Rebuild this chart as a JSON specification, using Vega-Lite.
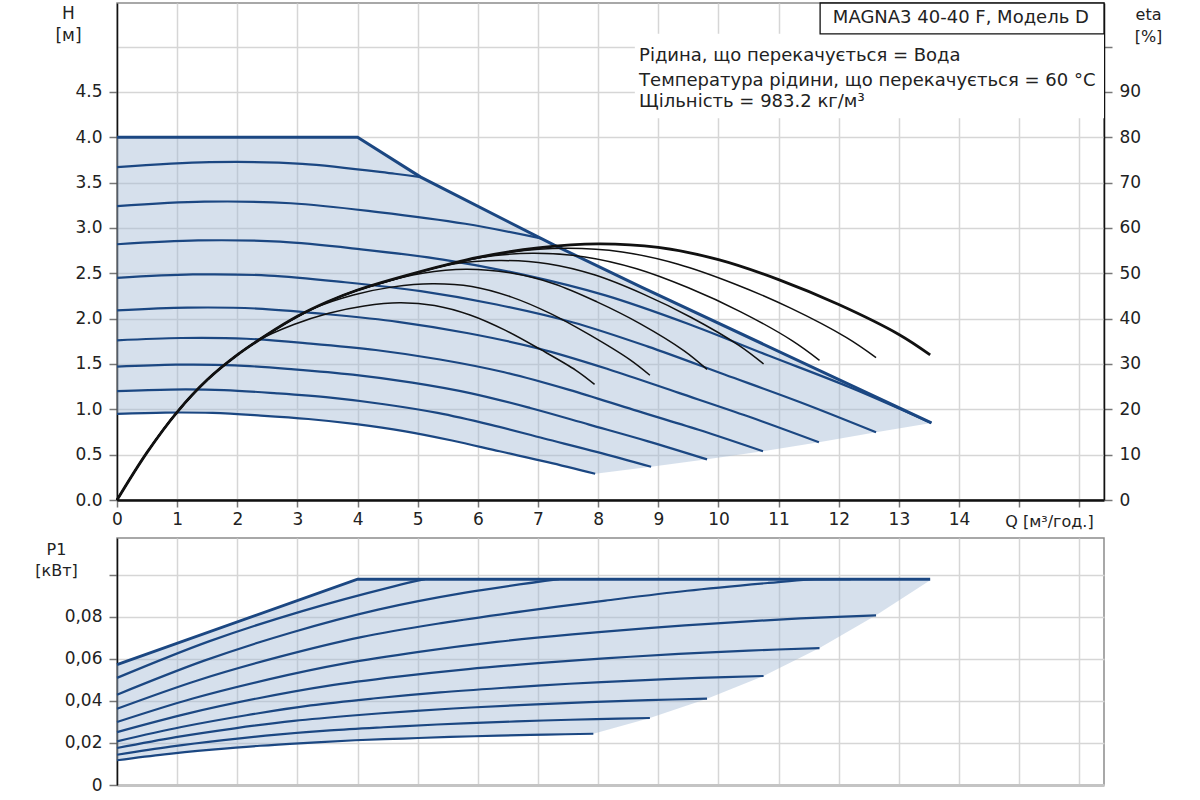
{
  "$schema": "https://vega.github.io/schema/vega-lite/v6.json",
  "padding": {"left": 34, "top": 1, "right": 5, "bottom": 0},
  "background": "white",
  "config": {
    "font": "DejaVu Sans",
    "view": {"stroke": "#8c8c8c", "strokeWidth": 1.5},
    "axis": {
      "labelFont": "DejaVu Sans", "labelFontSize": 17, "labelColor": "#222",
      "titleFont": "DejaVu Sans", "titleFontSize": 16, "titleFontWeight": "normal", "titleColor": "#222",
      "gridColor": "#d6d6d6", "gridWidth": 1.5,
      "domainColor": "#111", "domainWidth": 1.5,
      "tickColor": "#777", "tickSize": 8, "tickWidth": 1.5,
      "labelFlush": false, "labelOverlap": false, "labelBound": false
    }
  },
  "datasets": {
    "harea": [
      {"q": 0, "h": 4.0, "h2": 0.95},
      {"q": 0.8, "h": 4.0, "h2": 0.964},
      {"q": 1.59, "h": 4.0, "h2": 0.96},
      {"q": 2.39, "h": 4.0, "h2": 0.931},
      {"q": 3.18, "h": 4.0, "h2": 0.893},
      {"q": 4.0, "h": 4.0, "h2": 0.834},
      {"q": 4.77, "h": 3.677, "h2": 0.76},
      {"q": 5.05, "h": 3.56, "h2": 0.723},
      {"q": 5.57, "h": 3.384, "h2": 0.656},
      {"q": 6.36, "h": 3.117, "h2": 0.537},
      {"q": 7.16, "h": 2.847, "h2": 0.418},
      {"q": 7.27, "h": 2.81, "h2": 0.40},
      {"q": 7.95, "h": 2.59, "h2": 0.29},
      {"q": 8.71, "h": 2.35, "h2": 0.352},
      {"q": 8.88, "h": 2.297, "h2": 0.366},
      {"q": 9.81, "h": 2.008, "h2": 0.448},
      {"q": 10.74, "h": 1.719, "h2": 0.537},
      {"q": 11.67, "h": 1.43, "h2": 0.637},
      {"q": 12.62, "h": 1.135, "h2": 0.747},
      {"q": 13.54, "h": 0.85, "h2": 0.85}
    ],
    "hmax": [
      {"q": 0, "h": 4.0},
      {"q": 4.0, "h": 4.0},
      {"q": 5.05, "h": 3.56},
      {"q": 7.27, "h": 2.81},
      {"q": 8.71, "h": 2.35},
      {"q": 13.54, "h": 0.85}
    ],
    "hq": [
      {"curve": "C2", "q": 0, "h": 3.67}, {"curve": "C2", "q": 1.54, "h": 3.725}, {"curve": "C2", "q": 3.08, "h": 3.707}, {"curve": "C2", "q": 4.62, "h": 3.597}, {"curve": "C2", "q": 5.05, "h": 3.56},
      {"curve": "C3", "q": 0, "h": 3.24}, {"curve": "C3", "q": 1.45, "h": 3.289}, {"curve": "C3", "q": 2.89, "h": 3.272}, {"curve": "C3", "q": 4.34, "h": 3.175}, {"curve": "C3", "q": 5.79, "h": 3.046}, {"curve": "C3", "q": 7.05, "h": 2.885},
      {"curve": "C4", "q": 0, "h": 2.82}, {"curve": "C4", "q": 1.35, "h": 2.862}, {"curve": "C4", "q": 2.71, "h": 2.848}, {"curve": "C4", "q": 4.06, "h": 2.764}, {"curve": "C4", "q": 5.42, "h": 2.651}, {"curve": "C4", "q": 6.77, "h": 2.482}, {"curve": "C4", "q": 8.12, "h": 2.256}, {"curve": "C4", "q": 9.48, "h": 1.946}, {"curve": "C4", "q": 10.83, "h": 1.593}, {"curve": "C4", "q": 12.19, "h": 1.241}, {"curve": "C4", "q": 13.54, "h": 0.85},
      {"curve": "C5", "q": 0, "h": 2.45}, {"curve": "C5", "q": 1.26, "h": 2.487}, {"curve": "C5", "q": 2.52, "h": 2.475}, {"curve": "C5", "q": 3.79, "h": 2.401}, {"curve": "C5", "q": 5.05, "h": 2.303}, {"curve": "C5", "q": 6.31, "h": 2.156}, {"curve": "C5", "q": 7.57, "h": 1.96}, {"curve": "C5", "q": 8.83, "h": 1.691}, {"curve": "C5", "q": 10.1, "h": 1.384}, {"curve": "C5", "q": 11.36, "h": 1.078}, {"curve": "C5", "q": 12.62, "h": 0.747},
      {"curve": "C6", "q": 0, "h": 2.09}, {"curve": "C6", "q": 1.17, "h": 2.121}, {"curve": "C6", "q": 2.33, "h": 2.111}, {"curve": "C6", "q": 3.5, "h": 2.048}, {"curve": "C6", "q": 4.67, "h": 1.965}, {"curve": "C6", "q": 5.84, "h": 1.839}, {"curve": "C6", "q": 7.0, "h": 1.672}, {"curve": "C6", "q": 8.17, "h": 1.442}, {"curve": "C6", "q": 9.34, "h": 1.181}, {"curve": "C6", "q": 10.5, "h": 0.92}, {"curve": "C6", "q": 11.67, "h": 0.637},
      {"curve": "C7", "q": 0, "h": 1.76}, {"curve": "C7", "q": 1.07, "h": 1.786}, {"curve": "C7", "q": 2.15, "h": 1.778}, {"curve": "C7", "q": 3.22, "h": 1.725}, {"curve": "C7", "q": 4.3, "h": 1.654}, {"curve": "C7", "q": 5.37, "h": 1.549}, {"curve": "C7", "q": 6.44, "h": 1.408}, {"curve": "C7", "q": 7.52, "h": 1.214}, {"curve": "C7", "q": 8.59, "h": 0.994}, {"curve": "C7", "q": 9.67, "h": 0.774}, {"curve": "C7", "q": 10.74, "h": 0.537},
      {"curve": "C8", "q": 0, "h": 1.47}, {"curve": "C8", "q": 0.98, "h": 1.492}, {"curve": "C8", "q": 1.96, "h": 1.485}, {"curve": "C8", "q": 2.94, "h": 1.441}, {"curve": "C8", "q": 3.92, "h": 1.382}, {"curve": "C8", "q": 4.91, "h": 1.294}, {"curve": "C8", "q": 5.89, "h": 1.176}, {"curve": "C8", "q": 6.87, "h": 1.014}, {"curve": "C8", "q": 7.85, "h": 0.831}, {"curve": "C8", "q": 8.83, "h": 0.647}, {"curve": "C8", "q": 9.81, "h": 0.448},
      {"curve": "C9", "q": 0, "h": 1.2}, {"curve": "C9", "q": 0.89, "h": 1.218}, {"curve": "C9", "q": 1.78, "h": 1.212}, {"curve": "C9", "q": 2.66, "h": 1.176}, {"curve": "C9", "q": 3.55, "h": 1.128}, {"curve": "C9", "q": 4.44, "h": 1.056}, {"curve": "C9", "q": 5.33, "h": 0.96}, {"curve": "C9", "q": 6.22, "h": 0.828}, {"curve": "C9", "q": 7.1, "h": 0.678}, {"curve": "C9", "q": 7.99, "h": 0.528}, {"curve": "C9", "q": 8.88, "h": 0.366},
      {"curve": "C10", "q": 0, "h": 0.95}, {"curve": "C10", "q": 0.8, "h": 0.964}, {"curve": "C10", "q": 1.59, "h": 0.96}, {"curve": "C10", "q": 2.39, "h": 0.931}, {"curve": "C10", "q": 3.18, "h": 0.893}, {"curve": "C10", "q": 3.98, "h": 0.836}, {"curve": "C10", "q": 4.77, "h": 0.76}, {"curve": "C10", "q": 5.57, "h": 0.656}, {"curve": "C10", "q": 6.36, "h": 0.537}, {"curve": "C10", "q": 7.16, "h": 0.418}, {"curve": "C10", "q": 7.95, "h": 0.29}
    ],
    "eta": [
      {"curve": "E1", "q": 0, "eta": 0}, {"curve": "E1", "q": 0.5, "eta": 10.5}, {"curve": "E1", "q": 1, "eta": 19.4}, {"curve": "E1", "q": 1.5, "eta": 26.5}, {"curve": "E1", "q": 2, "eta": 32}, {"curve": "E1", "q": 2.35, "eta": 35.2}, {"curve": "E1", "q": 2.94, "eta": 38.7}, {"curve": "E1", "q": 3.52, "eta": 41.2}, {"curve": "E1", "q": 4.11, "eta": 42.8}, {"curve": "E1", "q": 4.7, "eta": 43.5}, {"curve": "E1", "q": 5.28, "eta": 42.9}, {"curve": "E1", "q": 5.87, "eta": 40.8}, {"curve": "E1", "q": 6.46, "eta": 37.4}, {"curve": "E1", "q": 7.04, "eta": 33.2}, {"curve": "E1", "q": 7.63, "eta": 28.6}, {"curve": "E1", "q": 7.94, "eta": 25.5},
      {"curve": "E2", "q": 0, "eta": 0}, {"curve": "E2", "q": 0.5, "eta": 10.5}, {"curve": "E2", "q": 1, "eta": 19.4}, {"curve": "E2", "q": 1.5, "eta": 26.5}, {"curve": "E2", "q": 1.97, "eta": 31.7}, {"curve": "E2", "q": 2.29, "eta": 34.6}, {"curve": "E2", "q": 2.62, "eta": 37.5}, {"curve": "E2", "q": 3.28, "eta": 42.3}, {"curve": "E2", "q": 3.93, "eta": 45.2}, {"curve": "E2", "q": 4.59, "eta": 47.0}, {"curve": "E2", "q": 5.24, "eta": 47.7}, {"curve": "E2", "q": 5.9, "eta": 47.1}, {"curve": "E2", "q": 6.55, "eta": 44.8}, {"curve": "E2", "q": 7.21, "eta": 41.1}, {"curve": "E2", "q": 7.86, "eta": 36.4}, {"curve": "E2", "q": 8.52, "eta": 31.0}, {"curve": "E2", "q": 8.86, "eta": 27.5},
      {"curve": "E3", "q": 0, "eta": 0}, {"curve": "E3", "q": 0.5, "eta": 10.5}, {"curve": "E3", "q": 1, "eta": 19.4}, {"curve": "E3", "q": 1.5, "eta": 26.5}, {"curve": "E3", "q": 2, "eta": 32}, {"curve": "E3", "q": 2.5, "eta": 36.5}, {"curve": "E3", "q": 2.9, "eta": 39.7}, {"curve": "E3", "q": 3.63, "eta": 44.4}, {"curve": "E3", "q": 4.35, "eta": 47.7}, {"curve": "E3", "q": 5.08, "eta": 50.0}, {"curve": "E3", "q": 5.8, "eta": 50.9}, {"curve": "E3", "q": 6.53, "eta": 50.1}, {"curve": "E3", "q": 7.26, "eta": 47.7}, {"curve": "E3", "q": 7.98, "eta": 43.7}, {"curve": "E3", "q": 8.71, "eta": 38.8}, {"curve": "E3", "q": 9.43, "eta": 32.9}, {"curve": "E3", "q": 9.81, "eta": 28.8},
      {"curve": "E4", "q": 0, "eta": 0}, {"curve": "E4", "q": 0.5, "eta": 10.5}, {"curve": "E4", "q": 1, "eta": 19.4}, {"curve": "E4", "q": 1.5, "eta": 26.5}, {"curve": "E4", "q": 2, "eta": 32}, {"curve": "E4", "q": 2.5, "eta": 36.5}, {"curve": "E4", "q": 3, "eta": 40.5}, {"curve": "E4", "q": 3.5, "eta": 43.7}, {"curve": "E4", "q": 3.98, "eta": 46.2}, {"curve": "E4", "q": 4.77, "eta": 49.3}, {"curve": "E4", "q": 5.57, "eta": 52.0}, {"curve": "E4", "q": 6.36, "eta": 52.8}, {"curve": "E4", "q": 7.16, "eta": 52.1}, {"curve": "E4", "q": 7.95, "eta": 49.6}, {"curve": "E4", "q": 8.75, "eta": 45.4}, {"curve": "E4", "q": 9.54, "eta": 40.3}, {"curve": "E4", "q": 10.34, "eta": 34.1}, {"curve": "E4", "q": 10.75, "eta": 30.0},
      {"curve": "E5", "q": 0, "eta": 0}, {"curve": "E5", "q": 0.5, "eta": 10.5}, {"curve": "E5", "q": 1, "eta": 19.4}, {"curve": "E5", "q": 1.5, "eta": 26.5}, {"curve": "E5", "q": 2, "eta": 32}, {"curve": "E5", "q": 2.5, "eta": 36.5}, {"curve": "E5", "q": 3, "eta": 40.5}, {"curve": "E5", "q": 3.5, "eta": 43.7}, {"curve": "E5", "q": 4, "eta": 46.3}, {"curve": "E5", "q": 4.32, "eta": 47.5}, {"curve": "E5", "q": 5.18, "eta": 50.8}, {"curve": "E5", "q": 6.05, "eta": 53.5}, {"curve": "E5", "q": 6.91, "eta": 54.4}, {"curve": "E5", "q": 7.78, "eta": 53.6}, {"curve": "E5", "q": 8.64, "eta": 51.0}, {"curve": "E5", "q": 9.5, "eta": 46.8}, {"curve": "E5", "q": 10.37, "eta": 41.5}, {"curve": "E5", "q": 11.23, "eta": 35.1}, {"curve": "E5", "q": 11.68, "eta": 30.8},
      {"curve": "E6", "q": 0, "eta": 0}, {"curve": "E6", "q": 0.5, "eta": 10.5}, {"curve": "E6", "q": 1, "eta": 19.4}, {"curve": "E6", "q": 1.5, "eta": 26.5}, {"curve": "E6", "q": 2, "eta": 32}, {"curve": "E6", "q": 2.5, "eta": 36.5}, {"curve": "E6", "q": 3, "eta": 40.5}, {"curve": "E6", "q": 3.5, "eta": 43.7}, {"curve": "E6", "q": 4, "eta": 46.3}, {"curve": "E6", "q": 5, "eta": 50.2}, {"curve": "E6", "q": 5.6, "eta": 52.2}, {"curve": "E6", "q": 6.53, "eta": 54.6}, {"curve": "E6", "q": 7.46, "eta": 55.5}, {"curve": "E6", "q": 8.4, "eta": 54.7}, {"curve": "E6", "q": 9.33, "eta": 52.0}, {"curve": "E6", "q": 10.26, "eta": 47.7}, {"curve": "E6", "q": 11.2, "eta": 42.3}, {"curve": "E6", "q": 12.13, "eta": 35.8}, {"curve": "E6", "q": 12.62, "eta": 31.4},
      {"curve": "E7", "q": 0, "eta": 0}, {"curve": "E7", "q": 0.5, "eta": 10.5}, {"curve": "E7", "q": 1, "eta": 19.4}, {"curve": "E7", "q": 1.5, "eta": 26.5}, {"curve": "E7", "q": 2, "eta": 32}, {"curve": "E7", "q": 2.5, "eta": 36.5}, {"curve": "E7", "q": 3, "eta": 40.5}, {"curve": "E7", "q": 3.5, "eta": 43.7}, {"curve": "E7", "q": 4, "eta": 46.3}, {"curve": "E7", "q": 5, "eta": 50.2}, {"curve": "E7", "q": 6, "eta": 53.5}, {"curve": "E7", "q": 7, "eta": 55.6}, {"curve": "E7", "q": 8, "eta": 56.5}, {"curve": "E7", "q": 9, "eta": 55.7}, {"curve": "E7", "q": 10, "eta": 53.0}, {"curve": "E7", "q": 11, "eta": 48.6}, {"curve": "E7", "q": 12, "eta": 43.1}, {"curve": "E7", "q": 13, "eta": 36.5}, {"curve": "E7", "q": 13.52, "eta": 32.0}
    ],
    "parea": [
      {"q": 0, "p": 0.0573, "p2": 0.0118},
      {"q": 0.79, "p": 0.0653, "p2": 0.0146},
      {"q": 1.58, "p": 0.0734, "p2": 0.0168},
      {"q": 2.38, "p": 0.0815, "p2": 0.0187},
      {"q": 3.17, "p": 0.0895, "p2": 0.0201},
      {"q": 3.96, "p": 0.0976, "p2": 0.0213},
      {"q": 4.0, "p": 0.098, "p2": 0.0214},
      {"q": 4.75, "p": 0.098, "p2": 0.0221},
      {"q": 5.54, "p": 0.098, "p2": 0.0229},
      {"q": 6.34, "p": 0.098, "p2": 0.0235},
      {"q": 7.13, "p": 0.098, "p2": 0.024},
      {"q": 7.92, "p": 0.098, "p2": 0.0244},
      {"q": 8.86, "p": 0.098, "p2": 0.0319},
      {"q": 9.81, "p": 0.098, "p2": 0.0411},
      {"q": 10.75, "p": 0.098, "p2": 0.0519},
      {"q": 11.68, "p": 0.098, "p2": 0.0652},
      {"q": 12.62, "p": 0.098, "p2": 0.0808},
      {"q": 13.52, "p": 0.098, "p2": 0.0975}
    ],
    "pmax": [
      {"q": 0, "p": 0.0573},
      {"q": 4.0, "p": 0.098},
      {"q": 13.52, "p": 0.098}
    ],
    "pq": [
      {"curve": "C2", "q": 0, "p": 0.051}, {"curve": "C2", "q": 1.54, "p": 0.0685}, {"curve": "C2", "q": 3.08, "p": 0.0828}, {"curve": "C2", "q": 4.62, "p": 0.0947}, {"curve": "C2", "q": 5.12, "p": 0.098},
      {"curve": "C3", "q": 0, "p": 0.043}, {"curve": "C3", "q": 1.45, "p": 0.0592}, {"curve": "C3", "q": 2.89, "p": 0.0725}, {"curve": "C3", "q": 4.34, "p": 0.0835}, {"curve": "C3", "q": 5.79, "p": 0.0916}, {"curve": "C3", "q": 7.35, "p": 0.098},
      {"curve": "C4", "q": 0, "p": 0.0363}, {"curve": "C4", "q": 1.35, "p": 0.0499}, {"curve": "C4", "q": 2.71, "p": 0.0611}, {"curve": "C4", "q": 4.06, "p": 0.0704}, {"curve": "C4", "q": 5.42, "p": 0.0772}, {"curve": "C4", "q": 6.77, "p": 0.0828}, {"curve": "C4", "q": 8.12, "p": 0.0878}, {"curve": "C4", "q": 9.48, "p": 0.0925}, {"curve": "C4", "q": 10.83, "p": 0.0962}, {"curve": "C4", "q": 11.5, "p": 0.0978}, {"curve": "C4", "q": 12.2, "p": 0.098},
      {"curve": "C5", "q": 0, "p": 0.03}, {"curve": "C5", "q": 1.26, "p": 0.0412}, {"curve": "C5", "q": 2.52, "p": 0.0503}, {"curve": "C5", "q": 3.79, "p": 0.0579}, {"curve": "C5", "q": 5.05, "p": 0.0635}, {"curve": "C5", "q": 6.31, "p": 0.0681}, {"curve": "C5", "q": 7.57, "p": 0.0717}, {"curve": "C5", "q": 8.83, "p": 0.0747}, {"curve": "C5", "q": 10.1, "p": 0.0772}, {"curve": "C5", "q": 11.36, "p": 0.0793}, {"curve": "C5", "q": 12.62, "p": 0.0808},
      {"curve": "C6", "q": 0, "p": 0.0252}, {"curve": "C6", "q": 1.17, "p": 0.034}, {"curve": "C6", "q": 2.33, "p": 0.0412}, {"curve": "C6", "q": 3.5, "p": 0.0472}, {"curve": "C6", "q": 4.67, "p": 0.0516}, {"curve": "C6", "q": 5.84, "p": 0.0552}, {"curve": "C6", "q": 7.0, "p": 0.058}, {"curve": "C6", "q": 8.17, "p": 0.0604}, {"curve": "C6", "q": 9.34, "p": 0.0624}, {"curve": "C6", "q": 10.5, "p": 0.064}, {"curve": "C6", "q": 11.68, "p": 0.0652},
      {"curve": "C7", "q": 0, "p": 0.0208}, {"curve": "C7", "q": 1.07, "p": 0.0276}, {"curve": "C7", "q": 2.15, "p": 0.0332}, {"curve": "C7", "q": 3.22, "p": 0.0379}, {"curve": "C7", "q": 4.3, "p": 0.0413}, {"curve": "C7", "q": 5.37, "p": 0.0441}, {"curve": "C7", "q": 6.45, "p": 0.0463}, {"curve": "C7", "q": 7.52, "p": 0.0482}, {"curve": "C7", "q": 8.6, "p": 0.0497}, {"curve": "C7", "q": 9.67, "p": 0.051}, {"curve": "C7", "q": 10.75, "p": 0.0519},
      {"curve": "C8", "q": 0, "p": 0.0176}, {"curve": "C8", "q": 0.98, "p": 0.0228}, {"curve": "C8", "q": 1.96, "p": 0.027}, {"curve": "C8", "q": 2.94, "p": 0.0305}, {"curve": "C8", "q": 3.92, "p": 0.0331}, {"curve": "C8", "q": 4.91, "p": 0.0352}, {"curve": "C8", "q": 5.89, "p": 0.0369}, {"curve": "C8", "q": 6.87, "p": 0.0383}, {"curve": "C8", "q": 7.85, "p": 0.0395}, {"curve": "C8", "q": 8.83, "p": 0.0404}, {"curve": "C8", "q": 9.81, "p": 0.0411},
      {"curve": "C9", "q": 0, "p": 0.0144}, {"curve": "C9", "q": 0.89, "p": 0.0183}, {"curve": "C9", "q": 1.77, "p": 0.0214}, {"curve": "C9", "q": 2.66, "p": 0.024}, {"curve": "C9", "q": 3.54, "p": 0.026}, {"curve": "C9", "q": 4.43, "p": 0.0275}, {"curve": "C9", "q": 5.32, "p": 0.0288}, {"curve": "C9", "q": 6.2, "p": 0.0298}, {"curve": "C9", "q": 7.09, "p": 0.0307}, {"curve": "C9", "q": 7.97, "p": 0.0314}, {"curve": "C9", "q": 8.86, "p": 0.0319},
      {"curve": "C10", "q": 0, "p": 0.0118}, {"curve": "C10", "q": 0.79, "p": 0.0146}, {"curve": "C10", "q": 1.58, "p": 0.0168}, {"curve": "C10", "q": 2.38, "p": 0.0187}, {"curve": "C10", "q": 3.17, "p": 0.0201}, {"curve": "C10", "q": 3.96, "p": 0.0213}, {"curve": "C10", "q": 4.75, "p": 0.0221}, {"curve": "C10", "q": 5.54, "p": 0.0229}, {"curve": "C10", "q": 6.34, "p": 0.0235}, {"curve": "C10", "q": 7.13, "p": 0.024}, {"curve": "C10", "q": 7.92, "p": 0.0244}
    ],
    "panel": [{"q": 8.61, "q2": 16.41, "h": 5.14, "h2": 4.21}],
    "box": [{"q": 11.69, "q2": 16.41, "h": 5.48, "h2": 5.14}],
    "boxtext": [{"q": 14.03, "h": 5.32, "t": "MAGNA3 40-40 F, Модель D"}],
    "info": [
      {"q": 8.68, "h": 4.9, "t": "Рідина, що перекачується = Вода"},
      {"q": 8.68, "h": 4.62, "t": "Температура рідини, що перекачується = 60 °C"},
      {"q": 8.68, "h": 4.39, "t": "Щільність = 983.2 кг/м³"}
    ]
  },
  "vconcat": [
    {
      "width": 987,
      "height": 497,
      "encoding": {
        "x": {
          "field": "q", "type": "quantitative",
          "scale": {"domain": [0, 16.41], "nice": false, "zero": false},
          "axis": {
            "values": [0, 1, 2, 3, 4, 5, 6, 7, 8, 9, 10, 11, 12, 13, 14, 15, 16],
            "labelExpr": "datum.value <= 14 ? datum.label : ''",
            "title": "Q [м³/год.]",
            "titleX": 932, "titleY": 21, "titleAlign": "center", "titleBaseline": "middle",
            "tickSize": 7, "labelPadding": 4, "domainWidth": 2.5
          }
        }
      },
      "layer": [
        {
          "encoding": {
            "y": {
              "field": "h", "type": "quantitative",
              "scale": {"domain": [0, 5.48], "nice": false, "zero": false},
              "axis": {
                "values": [0, 0.5, 1, 1.5, 2, 2.5, 3, 3.5, 4, 4.5, 5],
                "labelExpr": "datum.value > 4.6 ? '' : format(datum.value, '.1f')",
                "tickColor": {"condition": {"test": "datum.value > 4.6", "value": "transparent"}, "value": "#777"},
                "title": ["H", "[м]"],
                "titleAngle": 0, "titleX": -49, "titleY": 2,
                "titleAlign": "center", "titleBaseline": "top",
                "titleFontSize": 17, "titleLineHeight": 22,
                "labelPadding": 7
              }
            }
          },
          "layer": [
            {
              "data": {"name": "harea"},
              "mark": {"type": "area", "color": "#a3bbd5", "opacity": 0.45, "interpolate": "linear"},
              "encoding": {"y2": {"field": "h2"}}
            },
            {
              "data": {"name": "hq"},
              "mark": {"type": "line", "color": "#1b4782", "strokeWidth": 2.2, "interpolate": "catmull-rom"},
              "encoding": {"detail": {"field": "curve"}}
            },
            {
              "data": {"name": "hmax"},
              "mark": {"type": "line", "color": "#1b4782", "strokeWidth": 3, "interpolate": "linear"},
              "encoding": {}
            },
            {
              "data": {"name": "panel"},
              "mark": {"type": "rect", "color": "white"},
              "encoding": {"x2": {"field": "q2"}, "y2": {"field": "h2"}}
            },
            {
              "data": {"name": "box"},
              "mark": {"type": "rect", "fill": "white", "stroke": "#111", "strokeWidth": 1.3},
              "encoding": {"x2": {"field": "q2"}, "y2": {"field": "h2"}}
            },
            {
              "data": {"name": "boxtext"},
              "mark": {"type": "text", "font": "DejaVu Sans", "fontSize": 18, "color": "#222", "align": "center", "baseline": "middle"},
              "encoding": {"text": {"field": "t"}}
            },
            {
              "data": {"name": "info"},
              "mark": {"type": "text", "font": "DejaVu Sans", "fontSize": 18, "color": "#222", "align": "left", "baseline": "middle"},
              "encoding": {"text": {"field": "t"}}
            }
          ]
        },
        {
          "data": {"name": "eta"},
          "encoding": {
            "y": {
              "field": "eta", "type": "quantitative",
              "scale": {"domain": [0, 109.6], "nice": false, "zero": false},
              "axis": {
                "orient": "right",
                "values": [0, 10, 20, 30, 40, 50, 60, 70, 80, 90, 100],
                "labelExpr": "datum.value > 95 ? '' : datum.label",
                "title": ["eta", "[%]"],
                "titleAngle": 0, "titleX": 44, "titleY": 3,
                "titleAlign": "center", "titleBaseline": "top",
                "titleFontSize": 16, "titleLineHeight": 22,
                "grid": false, "labelPadding": 7
              }
            },
            "detail": {"field": "curve"}
          },
          "layer": [
            {
              "transform": [{"filter": "datum.curve != 'E7'"}],
              "mark": {"type": "line", "color": "#111", "strokeWidth": 1.5, "interpolate": "catmull-rom"}
            },
            {
              "transform": [{"filter": "datum.curve == 'E7'"}],
              "mark": {"type": "line", "color": "#111", "strokeWidth": 2.8, "interpolate": "catmull-rom"}
            }
          ]
        }
      ],
      "resolve": {"scale": {"y": "independent"}}
    },
    {
      "width": 987,
      "height": 247,
      "encoding": {
        "x": {
          "field": "q", "type": "quantitative",
          "scale": {"domain": [0, 16.41], "nice": false, "zero": false},
          "axis": {
            "values": [0, 1, 2, 3, 4, 5, 6, 7, 8, 9, 10, 11, 12, 13, 14, 15, 16],
            "labels": false, "ticks": false, "title": null,
            "domainColor": "#c4c4c4", "domainWidth": 3
          }
        },
        "y": {
          "field": "p", "type": "quantitative",
          "scale": {"domain": [0, 0.1176], "nice": false, "zero": false},
          "axis": {
            "values": [0, 0.02, 0.04, 0.06, 0.08, 0.1],
            "labelExpr": "datum.value == 0 ? '0' : (datum.value > 0.09 ? '' : replace(format(datum.value, '.2f'), '.', ','))",
            "title": ["P1", "[кВт]"],
            "titleAngle": 0, "titleX": -61, "titleY": 3,
            "titleAlign": "center", "titleBaseline": "top",
            "titleFontSize": 16, "titleLineHeight": 21,
            "labelPadding": 7
          }
        }
      },
      "layer": [
        {
          "data": {"name": "parea"},
          "mark": {"type": "area", "color": "#a3bbd5", "opacity": 0.45, "interpolate": "linear"},
          "encoding": {"y2": {"field": "p2"}}
        },
        {
          "data": {"name": "pq"},
          "mark": {"type": "line", "color": "#1b4782", "strokeWidth": 2.2, "interpolate": "catmull-rom"},
          "encoding": {"detail": {"field": "curve"}}
        },
        {
          "data": {"name": "pmax"},
          "mark": {"type": "line", "color": "#1b4782", "strokeWidth": 3, "interpolate": "linear"},
          "encoding": {}
        }
      ]
    }
  ],
  "spacing": 38,
  "bounds": "flush"
}
